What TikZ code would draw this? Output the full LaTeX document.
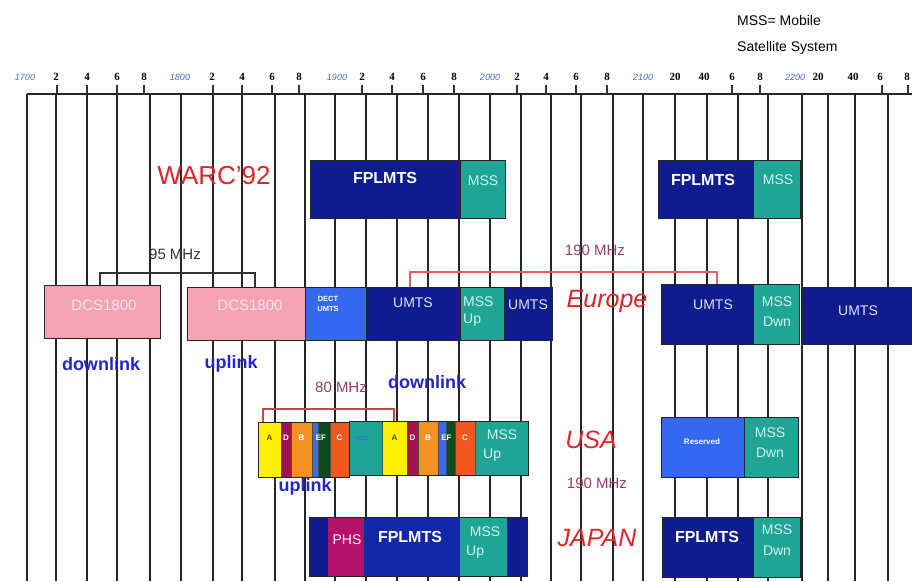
\documentclass[tikz,border=0pt]{standalone}
\usepackage{fontspec}
\setmainfont{Liberation Sans}
\newfontfamily\serifnum{Liberation Serif}
\definecolor{navy}{HTML}{0F1C8E}
\definecolor{navyb}{HTML}{1228A8}
\definecolor{tealb}{HTML}{1FA596}
\definecolor{pinkb}{HTML}{F4A3B2}
\definecolor{dectb}{HTML}{3468F0}
\definecolor{redt}{HTML}{E0252A}
\definecolor{purp}{HTML}{9A3A6A}
\definecolor{bluet}{HTML}{2424CC}
\definecolor{yel}{HTML}{FFF000}
\definecolor{maro}{HTML}{A3124E}
\definecolor{oran}{HTML}{F39222}
\definecolor{oranr}{HTML}{F0581E}
\definecolor{blu2}{HTML}{3C6AE6}
\definecolor{dgrn}{HTML}{0B4A22}
\definecolor{phsc}{HTML}{B3116C}
\definecolor{axisblue}{HTML}{4A6AD0}
\definecolor{brk}{HTML}{C84848}
\definecolor{lighttxt}{HTML}{DCE0FF}
\definecolor{msstxt}{HTML}{D4F2EE}
\definecolor{dcstxt}{HTML}{FBE2E8}
\begin{document}
\begin{tikzpicture}[x=1pt,y=-1pt,
  vline/.style={draw=black!85,line width=1.2pt},
  tickm/.style={draw=black!80,line width=1.2pt},
  blk/.style={draw=black!85,line width=0.9pt,inner sep=0pt,outer sep=0pt,anchor=north west},
  strip/.style={draw=black!70,line width=0.6pt,inner sep=0pt,outer sep=0pt,anchor=north west,minimum height=#1},
  fillonly/.style={draw=none,inner sep=0pt,outer sep=0pt,anchor=north west},
  fpl/.style={font=\bfseries\fontsize{16}{16}\selectfont,text=white,inner sep=0pt},
  umt/.style={font=\fontsize{14}{14}\selectfont,text=lighttxt,inner sep=0pt},
  msst/.style={font=\fontsize{14}{14}\selectfont,text=msstxt,inner sep=0pt},
  dcst/.style={font=\fontsize{15}{15}\selectfont,text=dcstxt,inner sep=0pt},
  region/.style={font=\itshape\fontsize{25}{25}\selectfont,text=redt,inner sep=0pt},
  mhz/.style={font=\fontsize{15}{15}\selectfont,text=purp,inner sep=0pt},
  link/.style={font=\bfseries\fontsize{18}{18}\selectfont,text=bluet,inner sep=0pt},
  cent/.style={font=\itshape\fontsize{9}{9}\selectfont,text=axisblue,inner sep=0pt},
  digit/.style={font=\serifnum\bfseries\fontsize{11}{11}\selectfont,text=black,inner sep=0pt},
  letr/.style={font=\bfseries\fontsize{8}{8}\selectfont,text=white,inner sep=0pt},
  bracket/.style={line width=1.2pt}
]
\useasboundingbox[fill=white] (0,0) rectangle (912,581);

% grid of vertical lines and axis
\foreach \x in {27,56,87,117,150,181,213,242,275,305,335,366,397,428,459,490,521,551,581,613,643,675,707,738,768,802,828,855,888}
  \draw[vline] (\x,94) -- (\x,581);
\draw[vline] (27,94) -- (912,94);
\foreach \x in {57,87,117,144,213,242,272,299,362,392,423,454,517,546,576,607,732,760,882,908}
  \draw[tickm] (\x,85) -- (\x,94);
\foreach \x/\t [count=\i] in {25/1700,180/1800,337/1900,490/2000,643/2100,795/2200}
  \node[cent] (c\i) at (\x,77) {\t};
\foreach \x/\t [count=\i] in {56/2,87/4,117/6,144/8,212/2,242/4,272/6,299/8,362/2,392/4,423/6,454/8,517/2,546/4,576/6,607/8,675/20,704/40,732/6,760/8,818/20,853/40,880/6,907/8}
  \node[digit] (d\i) at (\x,77) {\t};

% legend
\node[anchor=west,inner sep=0pt,font=\fontsize{14}{14}\selectfont] (leg1) at (737,20) {MSS= Mobile};
\node[anchor=west,inner sep=0pt,font=\fontsize{14}{14}\selectfont] (leg2) at (737,48) {Satellite System};

% WARC'92 row
\node[region,font=\fontsize{26}{26}\selectfont] (warc) at (214,176) {WARC'92};
\node[blk,fill=navy,minimum width=150pt,minimum height=58pt] (fp1) at (310,160) {};
\node[blk,fill=tealb,minimum width=45pt,minimum height=58pt] (ms1) at (460,160) {};
\node[blk,fill=navy,minimum width=95pt,minimum height=58pt] (fp2) at (658,160) {};
\node[blk,fill=tealb,minimum width=47pt,minimum height=58pt] (ms2) at (753,160) {};
\node[fpl] (fp1t) at (385,178) {FPLMTS};
\node[msst] (ms1t) at (483,181) {MSS};
\node[fpl] (fp2t) at (703,180) {FPLMTS};
\node[msst] (ms2t) at (778,180) {MSS};

% Europe row
\node[blk,fill=pinkb,minimum width=116pt,minimum height=53pt] (dcsA) at (44,285) {};
\node[blk,fill=pinkb,minimum width=118pt,minimum height=53pt] (dcsB) at (187,287) {};
\node[blk,fill=dectb,minimum width=61pt,minimum height=53pt] (dect) at (305,287) {};
\node[blk,fill=navy,minimum width=94pt,minimum height=53pt] (umA) at (366,287) {};
\node[blk,fill=tealb,minimum width=44pt,minimum height=53pt] (mssU) at (460,287) {};
\node[blk,fill=navy,minimum width=48pt,minimum height=53pt] (umB) at (504,287) {};
\node[blk,fill=navy,minimum width=92pt,minimum height=60pt] (umC) at (661,284) {};
\node[blk,fill=tealb,minimum width=46pt,minimum height=60pt] (mssD) at (753,284) {};
\node[blk,fill=navy,minimum width=110pt,minimum height=57pt] (umD) at (802,287) {};
\node[dcst] (dcsAt) at (104,305) {DCS1800};
\node[dcst] (dcsBt) at (250,305) {DCS1800};
\node[inner sep=0pt,align=center,text=white,font=\bfseries\fontsize{7.5}{10}\selectfont] (dectt) at (328,304) {DECT\\UMTS};
\node[umt] (umAt) at (413,303) {UMTS};
\node[msst,anchor=west] (mssUt1) at (463,302) {MSS};
\node[msst,anchor=west] (mssUt2) at (463,320) {Up};
\node[umt] (umBt) at (528,305) {UMTS};
\node[umt] (umCt) at (713,305) {UMTS};
\node[msst] (mssDt1) at (777,302) {MSS};
\node[msst] (mssDt2) at (777,322) {Dwn};
\node[umt] (umDt) at (858,311) {UMTS};
\node[region] (europe) at (607,301) {Europe};

% brackets Europe
\node[inner sep=0pt,font=\fontsize{15}{15}\selectfont,text=black!80] (m95) at (175,254) {95 MHz};
\coordinate (b95a) at (100,273);
\coordinate (b95b) at (255,273);
\draw[bracket,black!80] (b95a |- dcsA.north) -- (b95a) -- (b95b) -- (b95b |- dcsB.north);
\node[mhz] (m190a) at (595,250) {190 MHz};
\coordinate (b190a) at (410,272);
\coordinate (b190b) at (717,272);
\draw[bracket,draw=redt!75] (b190a |- umA.north) -- (b190a) -- (b190b) -- (b190b |- umC.north);

\node[link] (dl1) at (101,364) {downlink};
\node[link] (ul1) at (231,364) {uplink};
\node[mhz] (m80) at (341,387) {80 MHz};
\node[link] (dl2) at (427,382) {downlink};

% USA row
\node[strip=55pt,fill=yel,minimum width=23pt] (A1) at (258,422) {};
\node[strip=55pt,fill=maro,minimum width=10pt] (D1) at (281,422) {};
\node[strip=55pt,fill=oran,minimum width=21pt] (B1) at (291,422) {};
\node[strip=55pt,fill=blu2,minimum width=6pt] (E1) at (312,422) {};
\node[strip=55pt,fill=dgrn,minimum width=12pt] (F1) at (318,422) {};
\node[strip=55pt,fill=oranr,minimum width=19pt] (C1) at (330,422) {};
\node[strip=54pt,fill=tealb,minimum width=33pt] (T1) at (349,421) {};
\node[strip=54pt,fill=yel,minimum width=25pt] (A2) at (382,421) {};
\node[strip=54pt,fill=maro,minimum width=11pt] (D2) at (407,421) {};
\node[strip=54pt,fill=oran,minimum width=20pt] (B2) at (418,421) {};
\node[strip=54pt,fill=blu2,minimum width=8pt] (E2) at (438,421) {};
\node[strip=54pt,fill=dgrn,minimum width=9pt] (F2) at (446,421) {};
\node[strip=54pt,fill=oranr,minimum width=20pt] (C2) at (455,421) {};
\node[strip=54pt,fill=tealb,minimum width=53pt] (mssU2) at (475,421) {};
\draw[black!85,line width=0.9pt] (A1.north west) rectangle (C1.south east);
\draw[black!85,line width=0.9pt] (T1.north west) rectangle (mssU2.south east);
\node[letr,text=black!80!yellow] (A1t) at (269.5,438) {A};
\node[letr] (D1t) at (286,438) {D};
\node[letr] (B1t) at (301.5,438) {B};
\node[letr] (EF1t) at (321,438) {EF};
\node[letr] (C1t) at (339.5,438) {C};
\node[inner sep=0pt,font=\bfseries\fontsize{6}{6}\selectfont,text=blu2] (T1t) at (362,438) {MSS};
\node[letr,text=black!80!yellow] (A2t) at (394.5,438) {A};
\node[letr] (D2t) at (412.5,438) {D};
\node[letr] (B2t) at (428,438) {B};
\node[letr] (EF2t) at (446.5,438) {EF};
\node[letr] (C2t) at (465,438) {C};
\node[msst] (mssU2t1) at (502,435) {MSS};
\node[msst,anchor=west] (mssU2t2) at (483,455) {Up};
\coordinate (b80a) at (263,409);
\coordinate (b80b) at (394,409);
\draw[bracket,draw=brk] (b80a |- A1.north) -- (b80a) -- (b80b) -- (b80b |- A2.north);
\node[link] (ul2) at (305,487) {uplink};
\node[region] (usa) at (591,440) {USA};
\node[mhz] (m190b) at (597,483) {190 MHz};
\node[blk,fill=dectb,minimum width=83pt,minimum height=60pt] (resv) at (661,417) {};
\node[blk,fill=tealb,minimum width=54pt,minimum height=60pt] (mssD2) at (744,417) {};
\node[inner sep=0pt,text=white,font=\bfseries\fontsize{8}{8}\selectfont] (resvt) at (702,442) {Reserved};
\node[msst] (mssD2t1) at (770,433) {MSS};
\node[msst] (mssD2t2) at (770,453) {Dwn};

% Japan row
\node[blk,fill=navy,minimum width=218pt,minimum height=59pt] (jnav) at (309,517) {};
\node[fillonly,fill=phsc,minimum width=36pt,minimum height=58pt] (jphs) at (328,517.5) {};
\node[fillonly,fill=navyb,minimum width=96pt,minimum height=58pt] (jfp) at (364,517.5) {};
\node[fillonly,fill=tealb,minimum width=47pt,minimum height=58pt] (jmss) at (460,517.5) {};
\draw[black!85,line width=0.9pt] (jnav.north west) rectangle (jnav.south east);
\node[inner sep=0pt,font=\fontsize{14}{14}\selectfont,text=white!90!pink] (jphst) at (347,540) {PHS};
\node[fpl] (jfpt) at (410,537) {FPLMTS};
\node[msst] (jmsst1) at (485,532) {MSS};
\node[msst,anchor=west] (jmsst2) at (466,552) {Up};
\node[region] (japan) at (597,538) {JAPAN};
\node[blk,fill=navy,minimum width=91pt,minimum height=60pt] (jfp2) at (662,517) {};
\node[blk,fill=tealb,minimum width=47pt,minimum height=60pt] (jmss2) at (753,517) {};
\node[fpl] (jfp2t) at (707,537) {FPLMTS};
\node[msst] (jmss2t1) at (777,530) {MSS};
\node[msst] (jmss2t2) at (777,551) {Dwn};
\end{tikzpicture}
\end{document}
